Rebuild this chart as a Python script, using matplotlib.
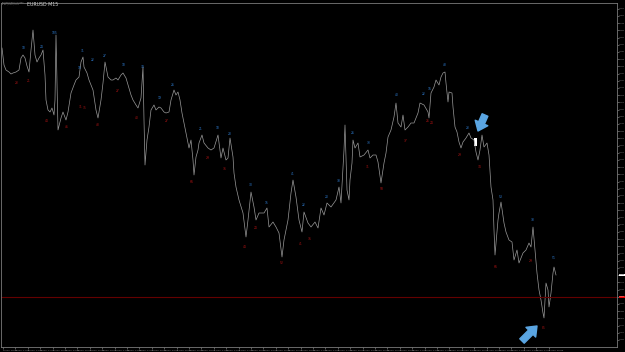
import matplotlib
matplotlib.use('Agg')
import matplotlib.pyplot as plt
from matplotlib.ticker import MultipleLocator, FormatStrFormatter
from matplotlib.patches import Rectangle
import pandas as pd

# EURUSD M15 - close prices (bar index, price)
bars = [1, 3, 5, 8, 10, 12, 15, 18, 20, 22, 24, 26, 28, 30, 32, 34, 36, 38, 40, 42,
        44, 45, 47, 49, 51, 53, 54, 55, 56, 57, 60, 62, 65, 67, 70, 73, 75, 78, 80, 82,
        83, 86, 88, 90, 92, 95, 97, 100, 102, 104, 107, 110, 112, 115, 117, 120, 122, 125, 128, 130,
        132, 135, 137, 140, 142, 143, 144, 146, 148, 150, 153, 155, 158, 160, 163, 165, 168, 170, 173, 175,
        177, 179, 181, 183, 185, 187, 188, 190, 192, 193, 195, 197, 198, 201, 203, 207, 210, 213, 217, 220,
        222, 225, 227, 229, 232, 233, 235, 238, 242, 245, 247, 250, 253, 255, 258, 263, 266, 268, 272, 275,
        278, 281, 283, 287, 290, 292, 295, 298, 301, 303, 307, 310, 314, 317, 320, 323, 326, 330, 335, 338,
        340, 343, 344, 346, 348, 349, 351, 352, 354, 357, 359, 363, 367, 369, 372, 375, 377, 380, 383, 385,
        387, 390, 393, 395, 397, 400, 402, 404, 407, 410, 413, 417, 419, 423, 427, 428, 430, 433, 435, 438,
        440, 442, 444, 445, 447, 448, 451, 452, 454, 456, 458, 460, 462, 465, 468, 470, 473, 475, 477, 479,
        481, 483, 486, 488, 490, 492, 493, 494, 497, 498, 500, 503, 505, 508, 511, 513, 516, 518, 522, 525,
        528, 530, 532, 534, 536, 538, 540, 542, 543, 545, 547, 548, 550, 552, 553, 555]
closes = [1.1452, 1.1435, 1.1430, 1.1428, 1.1426, 1.1427, 1.1428, 1.1430, 1.1442, 1.1445,
          1.1442, 1.1434, 1.1428, 1.1450, 1.1470, 1.1445, 1.1438, 1.1442, 1.1445, 1.1450,
          1.1425, 1.1400, 1.1390, 1.1388, 1.1392, 1.1385, 1.1400, 1.1465, 1.1420, 1.1370,
          1.1382, 1.1388, 1.1380, 1.1388, 1.1407, 1.1415, 1.1420, 1.1423, 1.1438, 1.1443,
          1.1433, 1.1427, 1.1420, 1.1415, 1.1410, 1.1390, 1.1382, 1.1400, 1.1417, 1.1438,
          1.1423, 1.1420, 1.1420, 1.1422, 1.1420, 1.1425, 1.1427, 1.1422, 1.1412, 1.1405,
          1.1400, 1.1395, 1.1392, 1.1402, 1.1433, 1.1380, 1.1335, 1.1360, 1.1373, 1.1390,
          1.1395, 1.1390, 1.1393, 1.1392, 1.1388, 1.1387, 1.1388, 1.1400, 1.1410, 1.1405,
          1.1408, 1.1400, 1.1387, 1.1377, 1.1367, 1.1357, 1.1352, 1.1360, 1.1340, 1.1325,
          1.1343, 1.1350, 1.1357, 1.1365, 1.1357, 1.1352, 1.1350, 1.1352, 1.1365, 1.1342,
          1.1352, 1.1340, 1.1342, 1.1362, 1.1343, 1.1327, 1.1313, 1.1300, 1.1287, 1.1263,
          1.1280, 1.1308, 1.1293, 1.1280, 1.1287, 1.1287, 1.1292, 1.1273, 1.1278, 1.1273,
          1.1267, 1.1243, 1.1260, 1.1280, 1.1307, 1.1320, 1.1303, 1.1280, 1.1268, 1.1288,
          1.1277, 1.1273, 1.1278, 1.1272, 1.1292, 1.1285, 1.1297, 1.1293, 1.1300, 1.1313,
          1.1297, 1.1350, 1.1375, 1.1310, 1.1300, 1.1320, 1.1337, 1.1360, 1.1352, 1.1357,
          1.1343, 1.1345, 1.1350, 1.1342, 1.1345, 1.1345, 1.1338, 1.1317, 1.1337, 1.1347,
          1.1363, 1.1370, 1.1383, 1.1397, 1.1377, 1.1373, 1.1385, 1.1370, 1.1373, 1.1377,
          1.1377, 1.1387, 1.1397, 1.1395, 1.1388, 1.1382, 1.1407, 1.1413, 1.1420, 1.1415,
          1.1423, 1.1427, 1.1428, 1.1417, 1.1398, 1.1408, 1.1407, 1.1393, 1.1373, 1.1368,
          1.1358, 1.1352, 1.1358, 1.1362, 1.1367, 1.1362, 1.1360, 1.1348, 1.1340, 1.1350,
          1.1365, 1.1353, 1.1357, 1.1345, 1.1313, 1.1300, 1.1270, 1.1245, 1.1280, 1.1287,
          1.1298, 1.1277, 1.1268, 1.1260, 1.1258, 1.1240, 1.1250, 1.1237, 1.1247, 1.1250,
          1.1257, 1.1253, 1.1273, 1.1250, 1.1227, 1.1210, 1.1200, 1.1187, 1.1182, 1.1217,
          1.1210, 1.1193, 1.1207, 1.1227, 1.1233, 1.1225]

# swing highs (blue) and swing lows (red) with their small labels
hi_bars = [23, 41, 54, 79, 82, 92, 104, 123, 142, 159, 172, 200, 217, 229, 250,
           266, 292, 303, 326, 338, 352, 368, 396, 423, 429, 444, 467, 500, 532, 553]
hi_prices = [1.1446, 1.1447, 1.1461, 1.1426, 1.1443, 1.1434, 1.1438, 1.1429, 1.1427, 1.1396,
             1.1409, 1.1365, 1.1366, 1.1360, 1.1309, 1.1291, 1.1320, 1.1289, 1.1297, 1.1313,
             1.1361, 1.1351, 1.1399, 1.1400, 1.1405, 1.1429, 1.1366, 1.1297, 1.1274, 1.1236]
hi_text = ['18', '24', '105', '16', '31', '22', '27', '18', '34', '19',
           '26', '21', '18', '28', '30', '15', '41', '22', '20', '38',
           '26', '33', '40', '22', '16', '48', '23', '53', '38', '51']
lo_bars = [16, 28, 46, 66, 80, 84, 97, 117, 136, 166, 191, 207, 224, 244,
           255, 281, 300, 309, 367, 381, 405, 427, 431, 459, 479, 495, 530, 543]
lo_prices = [1.1423, 1.1425, 1.1385, 1.1379, 1.1399, 1.1398, 1.1381, 1.1415, 1.1388, 1.1385,
             1.1324, 1.1348, 1.1337, 1.1259, 1.1278, 1.1243, 1.1262, 1.1267, 1.1339, 1.1317,
             1.1365, 1.1385, 1.1383, 1.1351, 1.1339, 1.1239, 1.1245, 1.1178]
lo_text = ['23', '21', '44', '46', '31', '35', '48', '27', '40', '27',
           '66', '29', '36', '44', '24', '52', '41', '36', '31', '58',
           '37', '26', '24', '29', '34', '66', '29', '85']

# signal arrows (tail -> tip)
arrow_tails = [(484, 1.1385), (521, 1.1159)]
arrow_tips = [(477, 1.1369), (536, 1.1174)]

level_price = 1.1203
bid_price = 1.1225
marker_bar, marker_low, marker_high = 473, 1.1354, 1.1362

time_labels = pd.date_range('2020-03-02 08:00', periods=45, freq='3h').strftime('%d %b %H:%M')

fig = plt.figure(figsize=(6.25, 3.52), dpi=100, facecolor='black')
ax = fig.add_axes([1 / 625, 5 / 352, 616 / 625, 344 / 352], facecolor='black')

ax.plot(bars, closes, color='#9a9a9a', lw=0.5)
ax.axhline(level_price, color='#640000', lw=0.8)

for b, p, t in zip(hi_bars, hi_prices, hi_text):
    ax.annotate(t, (b, p), xytext=(0, 4.5), textcoords='offset points',
                ha='center', va='center', fontsize=2.2, color='#2f7fd6')
for b, p, t in zip(lo_bars, lo_prices, lo_text):
    ax.annotate(t, (b, p), xytext=(0, -4.5), textcoords='offset points',
                ha='center', va='center', fontsize=2.2, color='#b01414')

for tail, tip in zip(arrow_tails, arrow_tips):
    ax.annotate('', xy=tip, xytext=tail,
                arrowprops=dict(arrowstyle='simple,head_length=0.7,head_width=1.1,tail_width=0.5',
                                color='#5aa5e2', shrinkA=0, shrinkB=0, mutation_scale=9))

ax.add_patch(Rectangle((marker_bar, marker_low), 3, marker_high - marker_low,
                       facecolor='white', edgecolor='none'))

ax.set_xlim(0, 616)
ax.set_ylim(1.1153, 1.1497)

ax.yaxis.tick_right()
ax.yaxis.set_major_locator(MultipleLocator(0.00072))
ax.yaxis.set_major_formatter(FormatStrFormatter('%.5f'))
ax.tick_params(axis='y', colors='#9a9a9a', labelsize=1.0, length=1.5, width=0.4, pad=0.2)

ax.set_xticks([2 + 12.4 * i for i in range(len(time_labels))])
ax.set_xticklabels(time_labels, ha='left')
ax.tick_params(axis='x', colors='#9a9a9a', labelsize=1.5, length=1.5, width=0.4, pad=0.3)

for s in ax.spines.values():
    s.set_color('#7a7a7a')
    s.set_linewidth(0.6)

# price tags on the right scale
tr = ax.get_yaxis_transform()
ax.text(1.003, level_price, '1.12030', transform=tr, fontsize=1.0, color='white', va='center',
        bbox=dict(boxstyle='square,pad=0.2', facecolor='#e00000', edgecolor='none'))
ax.text(1.003, bid_price, '1.12250', transform=tr, fontsize=1.0, color='black', va='center',
        bbox=dict(boxstyle='square,pad=0.2', facecolor='white', edgecolor='none'))

fig.text(2 / 625, 1 - 2 / 352, 'EURUSD,M15 1.12250\n0.00 / 0.00 / 0.00',
         fontsize=1.4, color='#9a9a9a', va='top', ha='left')
fig.text(27 / 625, 1 - 1.5 / 352, 'EURUSD M15', fontsize=3.4, color='#d0d0d0', va='top', ha='left')

fig.savefig('out.png', dpi=100, facecolor='black')
